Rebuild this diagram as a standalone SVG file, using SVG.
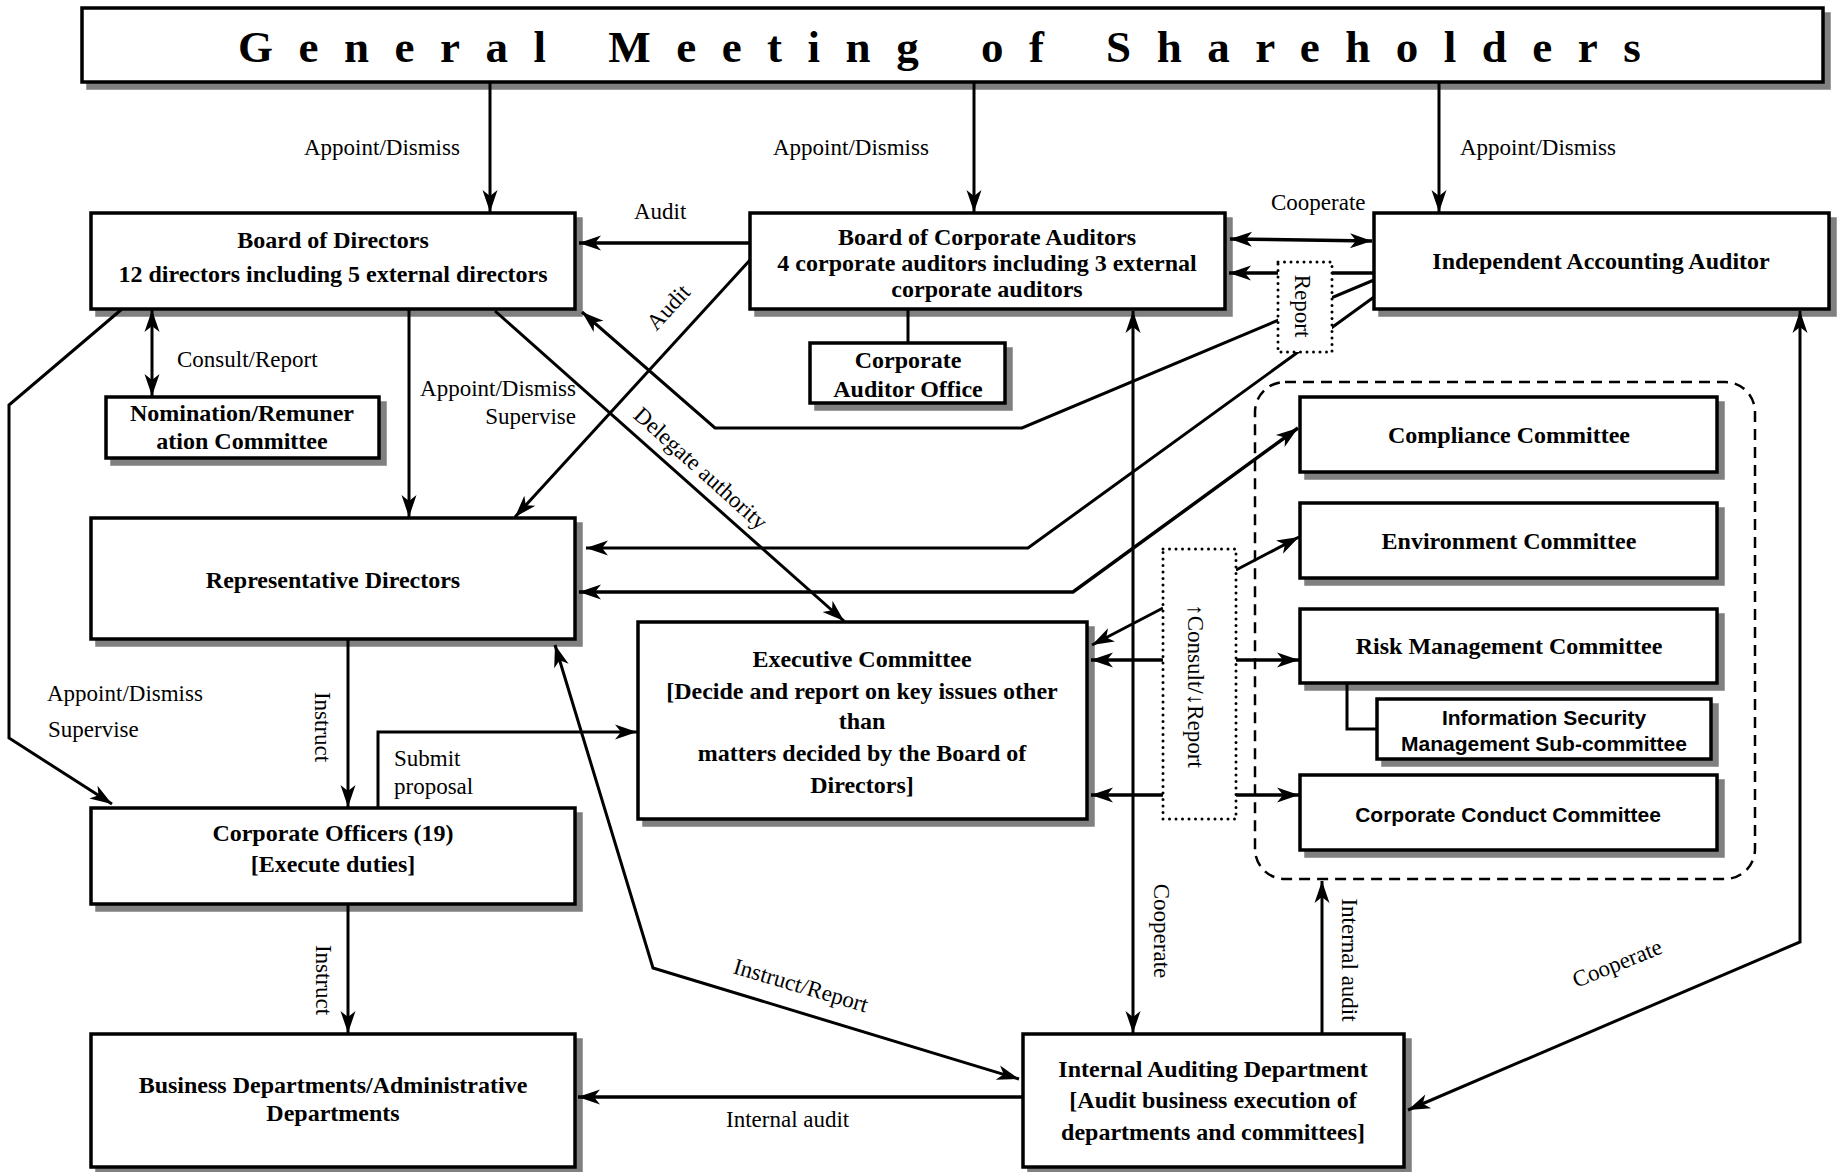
<svg xmlns="http://www.w3.org/2000/svg" width="1839" height="1172" viewBox="0 0 1839 1172">
<defs>
<style>
.box{fill:#fff;stroke:#000;stroke-width:3.5}
.sh{fill:#808080;stroke:#808080;stroke-width:3.5}
.ln{fill:none;stroke:#000;stroke-width:3}
.dot{fill:#fff;stroke:#000;stroke-width:3;stroke-dasharray:0 6.5;stroke-linecap:round}
.dash{fill:none;stroke:#000;stroke-width:2.5;stroke-dasharray:11 7}
.t{font-family:"Liberation Serif","Times New Roman",serif;font-weight:bold;font-size:24px;text-anchor:middle;fill:#000}
.g{font-family:"Liberation Sans",Arial,sans-serif;font-weight:bold;font-size:21px;text-anchor:middle;fill:#000}
.l{font-family:"Liberation Serif","Times New Roman",serif;font-size:23px;fill:#000}
.m{text-anchor:middle}
.e{text-anchor:end}
</style>
<marker id="ah" viewBox="-24 -10 26 20" refX="0" refY="0" markerWidth="26" markerHeight="20" markerUnits="userSpaceOnUse" orient="auto-start-reverse">
<path d="M0,0 L-22,-7.5 L-16,0 L-22,7.5 Z" fill="#000"/>
</marker>
</defs>
<rect width="1839" height="1172" fill="#fff"/>

<g id="gms">
<rect class="sh" x="88" y="14" width="1741" height="74"/>
<rect class="box" x="82" y="8" width="1741" height="74"/>
<text x="238" y="62" style="font-family:'Liberation Serif','Times New Roman',serif;font-weight:bold;font-size:45px;letter-spacing:25.5px">General Meeting of Shareholders</text>
</g>

<g id="bod">
<rect class="sh" x="97" y="219" width="484" height="96"/>
<rect class="box" x="91" y="213" width="484" height="96"/>
<text class="t" x="333" y="248">Board of Directors</text>
<text class="t" x="333" y="282">12 directors including 5 external directors</text>
</g>

<g id="bca">
<rect class="sh" x="756" y="219" width="475" height="96"/>
<rect class="box" x="750" y="213" width="475" height="96"/>
<text class="t" x="987" y="245">Board of Corporate Auditors</text>
<text class="t" x="987" y="271">4 corporate auditors including 3 external</text>
<text class="t" x="987" y="297">corporate auditors</text>
</g>

<g id="iaa">
<rect class="sh" x="1380" y="219" width="455" height="96"/>
<rect class="box" x="1374" y="213" width="455" height="96"/>
<text class="t" x="1601" y="269">Independent Accounting Auditor</text>
</g>

<g id="cao">
<rect class="sh" x="816" y="349" width="195" height="60"/>
<rect class="box" x="810" y="343" width="195" height="60"/>
<text class="t" x="908" y="368">Corporate</text>
<text class="t" x="908" y="397">Auditor Office</text>
</g>

<g id="nrc">
<rect class="sh" x="112" y="403" width="273" height="61"/>
<rect class="box" x="106" y="397" width="273" height="61"/>
<text class="t" x="242" y="421">Nomination/Remuner</text>
<text class="t" x="242" y="449">ation Committee</text>
</g>

<g id="rd">
<rect class="sh" x="97" y="524" width="484" height="121"/>
<rect class="box" x="91" y="518" width="484" height="121"/>
<text class="t" x="333" y="588">Representative Directors</text>
</g>

<g id="exec">
<rect class="sh" x="644" y="628" width="449" height="197"/>
<rect class="box" x="638" y="622" width="449" height="197"/>
<text class="t" x="862" y="667">Executive Committee</text>
<text class="t" x="862" y="699">[Decide and report on key issues other</text>
<text class="t" x="862" y="729">than</text>
<text class="t" x="862" y="761">matters decided by the Board of</text>
<text class="t" x="862" y="793">Directors]</text>
</g>

<g id="co">
<rect class="sh" x="97" y="814" width="484" height="96"/>
<rect class="box" x="91" y="808" width="484" height="96"/>
<text class="t" x="333" y="841">Corporate Officers (19)</text>
<text class="t" x="333" y="872">[Execute duties]</text>
</g>

<g id="bd">
<rect class="sh" x="97" y="1040" width="484" height="133"/>
<rect class="box" x="91" y="1034" width="484" height="133"/>
<text class="t" x="333" y="1093">Business Departments/Administrative</text>
<text class="t" x="333" y="1121">Departments</text>
</g>

<g id="iad">
<rect class="sh" x="1029" y="1040" width="381" height="133"/>
<rect class="box" x="1023" y="1034" width="381" height="133"/>
<text class="t" x="1213" y="1077">Internal Auditing Department</text>
<text class="t" x="1213" y="1108">[Audit business execution of</text>
<text class="t" x="1213" y="1140">departments and committees]</text>
</g>

<g id="committees">
<rect class="dash" x="1255" y="382" width="500" height="497" rx="30" ry="30"/>
</g>

<g id="compliance">
<rect class="sh" x="1306" y="403" width="417" height="75"/>
<rect class="box" x="1300" y="397" width="417" height="75"/>
<text class="t" x="1509" y="443">Compliance Committee</text>
</g>

<g id="environment">
<rect class="sh" x="1306" y="509" width="417" height="75"/>
<rect class="box" x="1300" y="503" width="417" height="75"/>
<text class="t" x="1509" y="549">Environment Committee</text>
</g>

<g id="risk">
<rect class="sh" x="1306" y="615" width="417" height="74"/>
<rect class="box" x="1300" y="609" width="417" height="74"/>
<text class="t" x="1509" y="654">Risk Management Committee</text>
</g>

<g id="infosec">
<rect class="sh" x="1383" y="705" width="334" height="60"/>
<rect class="box" x="1377" y="699" width="334" height="60"/>
<text class="g" x="1544" y="725">Information Security</text>
<text class="g" x="1544" y="751">Management Sub-committee</text>
</g>

<g id="conduct">
<rect class="sh" x="1306" y="781" width="417" height="75"/>
<rect class="box" x="1300" y="775" width="417" height="75"/>
<text class="g" x="1508" y="822">Corporate Conduct Committee</text>
</g>

<g id="connectors">
<path class="ln" d="M490,82 V212" marker-end="url(#ah)"/>
<path class="ln" d="M974,82 V212" marker-end="url(#ah)"/>
<path class="ln" d="M1439,82 V212" marker-end="url(#ah)"/>
<path class="ln" style="stroke-width:3.5" d="M750,243 H579" marker-end="url(#ah)"/>
<path class="ln" style="stroke-width:3.5" d="M1230,239 L1372,241" marker-start="url(#ah)" marker-end="url(#ah)"/>
<path class="ln" style="stroke-width:3.5" d="M1374,273 H1229" marker-end="url(#ah)"/>
<path class="ln" d="M1374,280 L1022,428 H715 L582,312" marker-end="url(#ah)"/>
<path class="ln" d="M1374,297 L1028,548 H586" marker-end="url(#ah)"/>
<path class="ln" style="stroke-width:3.5" d="M1298,428 L1073,592 H579" marker-start="url(#ah)" marker-end="url(#ah)"/>
<path class="ln" d="M908,309 V343"/>
<path class="ln" d="M152,310 V396" marker-start="url(#ah)" marker-end="url(#ah)"/>
<path class="ln" d="M409,309 V517" marker-end="url(#ah)"/>
<path class="ln" d="M750,260 L515,517" marker-end="url(#ah)"/>
<path class="ln" d="M495,311 L844,621" marker-end="url(#ah)"/>
<path class="ln" d="M122,309 L9,405 V738 L112,804" marker-end="url(#ah)"/>
<path class="ln" d="M348,639 V807" marker-end="url(#ah)"/>
<path class="ln" d="M378,808 V732 H637" marker-end="url(#ah)"/>
<path class="ln" d="M348,904 V1033" marker-end="url(#ah)"/>
<path class="ln" d="M555,645 L653,968 L1019,1079" marker-start="url(#ah)" marker-end="url(#ah)"/>
<path class="ln" style="stroke-width:3.5" d="M1023,1097 H578" marker-end="url(#ah)"/>
<path class="ln" d="M1133,311 V1033" marker-start="url(#ah)" marker-end="url(#ah)"/>
<path class="ln" d="M1322,1034 V881" marker-end="url(#ah)"/>
<path class="ln" d="M1800,311 V942 L1408,1110" marker-start="url(#ah)" marker-end="url(#ah)"/>
<path class="ln" d="M1163,608 L1092,645" marker-end="url(#ah)"/>
<path class="ln" style="stroke-width:3.5" d="M1163,660 H1091" marker-end="url(#ah)"/>
<path class="ln" style="stroke-width:3.5" d="M1163,795 H1091" marker-end="url(#ah)"/>
<path class="ln" d="M1236,570 L1299,537" marker-end="url(#ah)"/>
<path class="ln" style="stroke-width:3.5" d="M1236,660 H1299" marker-end="url(#ah)"/>
<path class="ln" style="stroke-width:3.5" d="M1236,795 H1299" marker-end="url(#ah)"/>
<path class="ln" d="M1347,683 V729 H1377"/>
</g>

<g id="report-box">
<rect class="dot" x="1278" y="262" width="54" height="90"/>
<text class="l m" transform="translate(1303,306) rotate(90)" y="8">Report</text>
</g>

<g id="consult-box">
<rect class="dot" x="1163" y="549" width="73" height="270"/>
<text class="l m" transform="translate(1196,686) rotate(90)" y="8">↑Consult/↓Report</text>
</g>

<g id="labels">
<text class="l" x="304" y="155">Appoint/Dismiss</text>
<text class="l" x="773" y="155">Appoint/Dismiss</text>
<text class="l" x="1460" y="155">Appoint/Dismiss</text>
<text class="l" x="634" y="219">Audit</text>
<text class="l" x="1271" y="210">Cooperate</text>
<text class="l" x="177" y="367">Consult/Report</text>
<text class="l e" x="576" y="396">Appoint/Dismiss</text>
<text class="l e" x="576" y="424">Supervise</text>
<text class="l" x="47" y="701">Appoint/Dismiss</text>
<text class="l" x="48" y="737">Supervise</text>
<text class="l" x="394" y="766">Submit</text>
<text class="l" x="394" y="794">proposal</text>
<text class="l" x="726" y="1127">Internal audit</text>
<text class="l m" transform="translate(668,307) rotate(-47.6)" y="8">Audit</text>
<text class="l m" transform="translate(701,468) rotate(42)" y="8">Delegate authority</text>
<text class="l m" transform="translate(801,985) rotate(16.5)" y="8">Instruct/Report</text>
<text class="l m" transform="translate(1617,963) rotate(-22)" y="8">Cooperate</text>
<text class="l m" transform="translate(323,727) rotate(90)" y="8">Instruct</text>
<text class="l m" transform="translate(324,980) rotate(90)" y="8">Instruct</text>
<text class="l m" transform="translate(1162,931) rotate(90)" y="8">Cooperate</text>
<text class="l m" transform="translate(1350,960) rotate(90)" y="8">Internal audit</text>
</g>
</svg>
